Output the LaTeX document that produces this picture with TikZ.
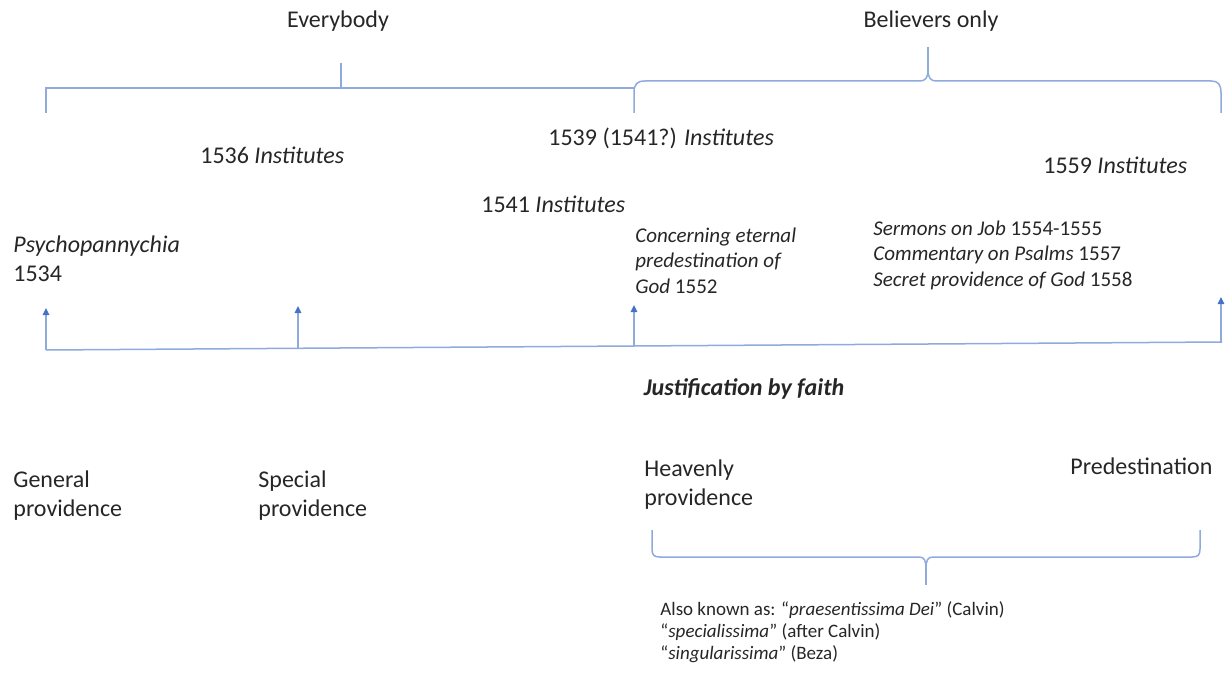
\documentclass[tikz,border=0pt]{standalone}
\usepackage{fontspec}
\setmainfont{Carlito}
\usepackage{tikz}
\usetikzlibrary{arrows.meta,positioning,calc}
\definecolor{brkblue}{HTML}{8FAADC}
\definecolor{tipblue}{HTML}{4472C4}
\definecolor{inkgray}{HTML}{262626}
\tikzset{
  lbl/.style={font=\fontsize{12}{14.5}\selectfont, text=inkgray, align=left,
              inner sep=0pt, anchor=base west},
  note/.style={lbl, font=\fontsize{10.5}{12.6}\selectfont},
  memo/.style={lbl, font=\fontsize{9.5}{11}\selectfont},
  brk/.style={draw=brkblue, line width=0.75pt},
  rise/.style={brk, -{Triangle[length=3.5pt, width=3.2pt, color=tipblue]}}
}

\begin{document}
\begin{tikzpicture}[x=0.5pt, y=-0.5pt]
  \useasboundingbox (0,0) rectangle (1232,674);
  % audience labels and brackets
  \node[lbl, anchor=base] (every) at (338,28) {Everybody};
  \node[lbl, anchor=base] (believers) at (931,28) {Believers only};
  \coordinate (ea) at (46,113); \coordinate (eb) at (46,88);
  \coordinate (ec) at (634,88); \coordinate (em) at (341,88);
  \coordinate (et) at (341,63);
  \draw[brk] (ea) -- (eb) -- (ec);
  \draw[brk] (em) -- (et);
  \coordinate (ba) at (634,113); \coordinate (bz) at (1221,113);
  \coordinate (bm) at (928,70); \coordinate (bt) at (928,47);
  \draw[brk] (ba) -- (634,93) .. controls (634,84) and (637,81) .. (645,81)
    -- (920,81) .. controls (925,81) and (928,78) .. (bm)
    .. controls (928,78) and (931,81) .. (936,81)
    -- (1211,81) .. controls (1218,81) and (1221,84) .. (1221,93) -- (bz);
  \draw[brk] (bm) -- (bt);
  % works (multi-line nodes sit on their last baseline)
  \node[lbl] (i1536) at (200,163) {1536 \textit{Institutes}};
  \node[lbl] (i1539) at (548,146) {1539 (1541?) \textit{Institutes}};
  \node[lbl] (i1541) at (481,213) {1541 \textit{Institutes}};
  \node[lbl] (i1559) at (1043,174) {1559 \textit{Institutes}};
  \node[lbl] (psycho) at (13,281) {\textit{Psychopannychia}\\1534};
  \node[note] (concern) at (635,293)
    {\textit{Concerning eternal}\\\textit{predestination of}\\\textit{God} 1552};
  \node[note] (sermons) at (873,286)
    {\textit{Sermons on Job} 1554-1555\\\textit{Commentary on Psalms} 1557\\
     \textit{Secret providence of God} 1558};
  % timeline
  \coordinate (ax0) at (46,350); \coordinate (ax1) at (1222,342);
  \draw[brk] (ax0) -- (ax1);
  \coordinate (t1) at (46,308);
  \coordinate (p2) at (298,348.3); \coordinate (t2) at (298,306);
  \coordinate (p3) at (634,346); \coordinate (t3) at (634,305);
  \coordinate (p4) at (1221,342); \coordinate (t4) at (1221,297);
  \draw[rise] (ax0) -- (t1);
  \draw[rise] (p2) -- (t2);
  \draw[rise] (p3) -- (t3);
  \draw[rise] (p4) -- (t4);
  \node[lbl, anchor=base, font=\fontsize{12}{14.5}\selectfont\bfseries\itshape]
    (justif) at (744,395) {Justification by faith};
  % kinds of providence
  \node[lbl] (general) at (13,516) {General\\providence};
  \node[lbl] (special) at (258,516) {Special\\providence};
  \node[lbl] (heavenly) at (644,505) {Heavenly\\providence};
  \node[lbl] (predest) at (1070,474) {Predestination};
  \coordinate (ha) at (652,530); \coordinate (hz) at (1200,530);
  \coordinate (hm) at (926,568); \coordinate (ht) at (926,585);
  \draw[brk] (ha) -- (652,549) .. controls (652,555) and (654,557) .. (660,557)
    -- (919,557) .. controls (924,557) and (926,560) .. (hm)
    .. controls (926,560) and (928,557) .. (933,557)
    -- (1192,557) .. controls (1198,557) and (1200,555) .. (1200,549) -- (hz);
  \draw[brk] (hm) -- (ht);
  \node[memo] (aka) at (660,659)
    {Also known as: “\textit{praesentissima Dei}” (Calvin)\\
     “\textit{specialissima}” (after Calvin)\\“\textit{singularissima}” (Beza)};
\end{tikzpicture}
\end{document}
